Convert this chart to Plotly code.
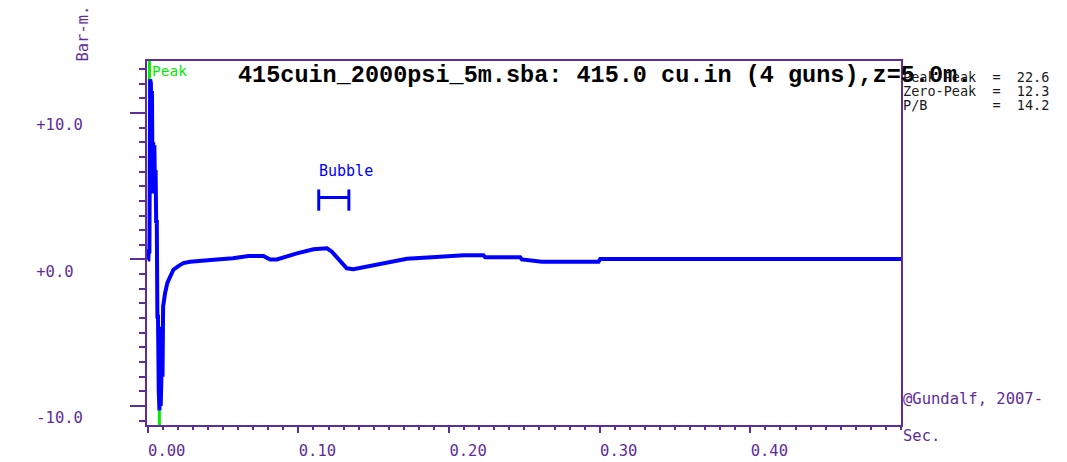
import plotly.graph_objects as go

# Far-field source signature (bar-m) against time (s)
time_s = [
    0.0000, 0.0004, 0.0006, 0.0011, 0.0016, 0.0021, 0.0024, 0.0028, 0.0032,
    0.0036, 0.0040, 0.0044, 0.0048, 0.0052, 0.0056, 0.0060, 0.0064, 0.0068,
    0.0073, 0.0078, 0.0082, 0.0086, 0.0090, 0.0094, 0.0098, 0.0102, 0.0108,
    0.0115, 0.0130, 0.0148, 0.0170, 0.0203, 0.0236, 0.0281, 0.0369, 0.0458,
    0.0566, 0.0668, 0.0768, 0.0812, 0.0857, 0.0900, 0.0990, 0.1100, 0.1190,
    0.1222, 0.1277, 0.1321, 0.1365, 0.1454, 0.1564, 0.1720, 0.1940, 0.2096,
    0.2228, 0.2240, 0.2472, 0.2483, 0.2616, 0.2992, 0.3003, 0.3335, 0.4000,
    0.5000,
]
pressure = [
    0.00, 0.00, 0.55, 0.55, 12.3, 12.0, 4.6, 11.5, 4.5,
    8.0, 5.0, 7.8, 4.6, 6.1, 2.5, 2.7, -3.9, -3.9,
    -9.0, -10.3, -4.6, -10.0, -8.4, -4.6, -8.0, -3.2, -2.5,
    -2.3, -1.6, -1.2, -0.7, -0.45, -0.25, -0.15, -0.05, 0.00,
    0.08, 0.24, 0.24, 0.00, 0.00, 0.15, 0.42, 0.70, 0.76,
    0.53, -0.15, -0.60, -0.67, -0.49, -0.26, 0.05, 0.19, 0.29,
    0.29, 0.15, 0.15, 0.00, -0.15, -0.15, 0.04, 0.04, 0.04,
    0.04,
]

# Summary figures printed beside the plot
peak_to_peak = 22.6
zero_to_peak = 12.3
peak_to_bubble = 14.2

# Markers at the primary peak and trough
peak_time = 0.0011
trough_time = 0.0077

# Bubble period bracket
bubble_start = 0.1135
bubble_end = 0.1335
bubble_level = 4.23

x_tick_vals = [0.0, 0.1, 0.2, 0.3, 0.4]
y_tick_vals = [-10, 0, 10]
y_tick_text = ["-10.0", "+0.0\u00a0", "+10.0"]

x_range = [-0.0005, 0.5]
y_range = [-11.3, 13.55]

PURPLE = "#5f2d9b"
BLUE = "#0000ff"
GREEN = "#00ee00"
MONO = "DejaVu Sans Mono"

fig = go.Figure()

# green peak / trough markers, drawn under the signature
fig.add_trace(go.Scatter(
    x=[peak_time, peak_time, None, trough_time, trough_time],
    y=[y_range[1], 11.0, None, -9.1, y_range[0]],
    mode="lines", line=dict(color=GREEN, width=3),
    hoverinfo="skip", showlegend=False,
))

fig.add_trace(go.Scatter(
    x=time_s, y=pressure, mode="lines",
    line=dict(color=BLUE, width=4),
    showlegend=False,
))

# bubble period bracket
fig.add_trace(go.Scatter(
    x=[bubble_start, bubble_start, None, bubble_start, bubble_end, None,
       bubble_end, bubble_end],
    y=[bubble_level - 0.9, bubble_level + 0.55, None, bubble_level,
       bubble_level, None, bubble_level - 0.9, bubble_level + 0.55],
    mode="lines", line=dict(color=BLUE, width=3),
    hoverinfo="skip", showlegend=False,
))

axis_common = dict(
    showline=True, linecolor=PURPLE, linewidth=2, mirror=True,
    ticks="outside", tickcolor=PURPLE, tickwidth=2,
    showgrid=False, zeroline=False, automargin=False,
    tickfont=dict(family=MONO, size=15.5, color=PURPLE),
)

fig.update_xaxes(
    **axis_common,
    range=x_range, tickmode="array", tickvals=x_tick_vals,
    tickformat=".2f", ticklen=6,
    ticklabelshift=19, ticklabelstandoff=4,
    minor=dict(dtick=0.01, tick0=0, ticks="outside", ticklen=3,
               tickwidth=2, tickcolor=PURPLE, showgrid=False),
)
fig.update_yaxes(
    **axis_common,
    range=y_range, tickmode="array", tickvals=y_tick_vals,
    ticktext=y_tick_text, ticklen=15,
    ticklabelshift=12, ticklabelstandoff=44,
    minor=dict(dtick=1, tick0=0, ticks="outside", ticklen=6,
               tickwidth=2, tickcolor=PURPLE, showgrid=False),
)

annotations = [
    dict(text="415cuin_2000psi_5m.sba: 415.0 cu.in (4 guns),z=5.0m.",
         xref="paper", yref="paper", x=0.118, y=0.9615,
         xanchor="left", yanchor="middle", showarrow=False,
         font=dict(family="Liberation Mono", size=23.5, color="#000000",
                   weight="bold")),
    dict(text="Bar-m.", xref="paper", yref="paper", x=-0.085, y=1.075,
         xanchor="center", yanchor="middle", textangle=-90, showarrow=False,
         font=dict(family=MONO, size=15.5, color=PURPLE)),
    dict(text="@Gundalf, 2007-", xref="paper", yref="paper", x=1.0, y=0.0714,
         xanchor="left", yanchor="middle", showarrow=False,
         font=dict(family=MONO, size=15.5, color=PURPLE)),
    dict(text="Sec.", xref="paper", yref="paper", x=1.0, y=-0.030,
         xanchor="left", yanchor="middle", showarrow=False,
         font=dict(family=MONO, size=15.5, color=PURPLE)),
    dict(text="Peak", xref="x", yref="paper", x=peak_time, y=0.9725,
         xanchor="left", yanchor="middle", xshift=1, showarrow=False,
         font=dict(family=MONO, size=14.5, color=GREEN)),
    dict(text="Bubble", xref="x", yref="y", x=bubble_start, y=6.04,
         xanchor="left", yanchor="middle", xshift=-2, showarrow=False,
         font=dict(family=MONO, size=15, color=BLUE)),
]

stats = [
    ("Peak-Peak", peak_to_peak, 0.956),
    ("Zero-Peak", zero_to_peak, 0.918),
    ("P/B", peak_to_bubble, 0.879),
]
for name, value, ypos in stats:
    label = name.ljust(11, "\u00a0") + "=" + "\u00a0\u00a0" + f"{value:.1f}"
    annotations.append(dict(
        text=label, xref="paper", yref="paper", x=1.0, y=ypos,
        xanchor="left", yanchor="middle", showarrow=False,
        font=dict(family=MONO, size=13.5, color="#1a1a1a"),
    ))

fig.update_layout(
    template="none",
    width=1067, height=462,
    margin=dict(l=147, r=166, t=61, b=37, pad=0),
    paper_bgcolor="white", plot_bgcolor="white",
    annotations=annotations,
    showlegend=False,
)

fig.write_html("out.html", config={"displayModeBar": False})
